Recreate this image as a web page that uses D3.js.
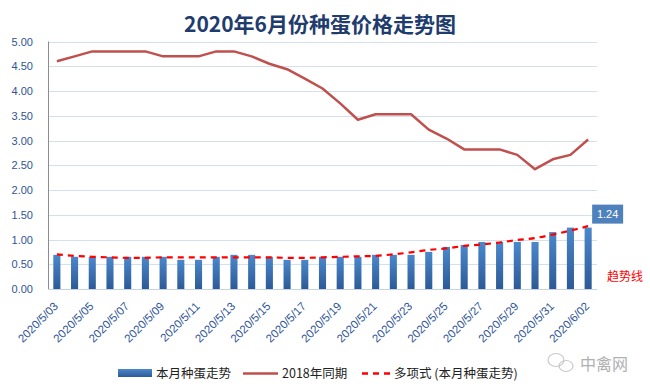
<!DOCTYPE html>
<html><head><meta charset="utf-8">
<script src="https://cdn.jsdelivr.net/npm/d3@7"></script>
<style>
html,body{margin:0;padding:0;background:#fff;}
svg{display:block;}
</style></head>
<body>
<svg id="c" width="650" height="392"></svg>
<script>
const dates = ["2020/5/03","2020/5/04","2020/5/05","2020/5/06","2020/5/07","2020/5/08","2020/5/09","2020/5/10","2020/5/11","2020/5/12","2020/5/13","2020/5/14","2020/5/15","2020/5/16","2020/5/17","2020/5/18","2020/5/19","2020/5/20","2020/5/21","2020/5/22","2020/5/23","2020/5/24","2020/5/25","2020/5/26","2020/5/27","2020/5/28","2020/5/29","2020/5/30","2020/5/31","2020/6/01","2020/6/02"];
const current = [0.69,0.65,0.65,0.65,0.65,0.65,0.65,0.59,0.59,0.65,0.69,0.69,0.65,0.59,0.59,0.65,0.65,0.65,0.69,0.69,0.69,0.75,0.85,0.89,0.95,0.95,0.95,0.95,1.15,1.24,1.24];
const year2018 = [4.6,4.7,4.8,4.8,4.8,4.8,4.7,4.7,4.7,4.8,4.8,4.7,4.55,4.44,4.25,4.05,3.75,3.42,3.53,3.53,3.53,3.22,3.04,2.82,2.82,2.82,2.71,2.42,2.62,2.71,3.02];
const trend = [0.70,0.67,0.65,0.64,0.63,0.63,0.64,0.64,0.64,0.64,0.64,0.64,0.64,0.63,0.63,0.64,0.65,0.66,0.67,0.70,0.74,0.79,0.82,0.87,0.90,0.94,0.99,1.03,1.10,1.18,1.27];
const yTicks = [0,0.5,1,1.5,2,2.5,3,3.5,4,4.5,5];
const title = "2020年6月份种蛋价格走势图";
const legendNames = ["本月种蛋走势","2018年同期","多项式 (本月种蛋走势)"];

const svg = d3.select("#c");
const L = 48, R = 597, T = 41.5, B = 289;
const x = d3.scaleBand().domain(dates).range([L, R]).paddingInner(0.6).paddingOuter(0.3);
const y = d3.scaleLinear().domain([0,5]).range([B, T]);
const cx = d => x(d) + x.bandwidth()/2;

const defs = svg.append("defs");
const g = defs.append("linearGradient").attr("id","bg").attr("x1",0).attr("y1",0).attr("x2",0).attr("y2",1);
g.append("stop").attr("offset","0%").attr("stop-color","#4a88cc");
g.append("stop").attr("offset","100%").attr("stop-color","#2d5a97");
const lg = defs.append("linearGradient").attr("id","lg").attr("x1",0).attr("y1",0).attr("x2",0).attr("y2",1);
lg.append("stop").attr("offset","0%").attr("stop-color","#4a88cc");
lg.append("stop").attr("offset","100%").attr("stop-color","#2d5a97");

// title
svg.append("text").attr("x",320).attr("y",32).attr("text-anchor","middle")
  .attr("font-family","'Noto Sans CJK SC', sans-serif").attr("font-weight","bold")
  .attr("font-size",21).attr("fill","#1f3c6e").text(title);

// grid
svg.append("g").selectAll("line").data(yTicks).join("line")
  .attr("x1",L).attr("x2",R).attr("y1",d=>Math.round(y(d))+0.5).attr("y2",d=>Math.round(y(d))+0.5)
  .attr("stroke",d=>d===0?"#c8d3e2":"#d5e0ee").attr("stroke-width",1);

// y axis
const ya = svg.append("g").attr("transform",`translate(${L},0)`)
  .call(d3.axisLeft(y).tickValues(yTicks).tickFormat(d3.format(".2f")).tickSize(0).tickPadding(15));
ya.select(".domain").attr("stroke","#8c8c8c").attr("d",`M0.5,${T}V${B}`);
ya.selectAll("text").attr("font-family","'Liberation Sans', Arial, sans-serif").attr("font-size",11).attr("fill","#2f5597");

// bars
svg.append("g").selectAll("rect").data(current).join("rect")
  .attr("x",(d,i)=>x(dates[i])).attr("width",x.bandwidth())
  .attr("y",d=>y(d)).attr("height",d=>B-y(d)).attr("fill","url(#bg)");

// 2018 line
svg.append("path").datum(year2018)
  .attr("d",d3.line().x((d,i)=>cx(dates[i])).y(d=>y(d)))
  .attr("fill","none").attr("stroke","#c0504d").attr("stroke-width",2.5).attr("stroke-linejoin","round");

// trend line
svg.append("path").datum(trend)
  .attr("d",d3.line().curve(d3.curveMonotoneX).x((d,i)=>cx(dates[i])).y(d=>y(d)))
  .attr("fill","none").attr("stroke","#ff0000").attr("stroke-width",2.2).attr("stroke-dasharray","6,5");

// x labels
const xl = svg.append("g");
dates.forEach((d,i)=>{
  if(i%2===0){
    xl.append("text").attr("transform",`translate(${cx(d)+2},${307}) rotate(-45)`)
      .attr("text-anchor","end").attr("font-family","'Liberation Sans', Arial, sans-serif")
      .attr("font-size",11.5).attr("fill","#2f5597").text(d);
  }
});

// data label
const last = current.length-1;
const lx = cx(dates[last])+4, ly = y(current[last])-4;
svg.append("rect").attr("x",lx).attr("y",ly-19).attr("width",31).attr("height",19).attr("fill","#4f81bd");
svg.append("text").attr("x",lx+15.5).attr("y",ly-5.5).attr("text-anchor","middle")
  .attr("font-family","'Liberation Sans', Arial, sans-serif").attr("font-size",11).attr("fill","#fff")
  .text(d3.format(".2f")(current[last]));

// annotation
svg.append("text").attr("x",607).attr("y",281).attr("font-family","'Noto Sans CJK SC', sans-serif")
  .attr("font-size",12).attr("fill","#ff0000").text("趋势线");

// legend
const lgY = 373;
const lf = "'Noto Sans CJK SC', sans-serif";
svg.append("rect").attr("x",118).attr("y",lgY-4).attr("width",34).attr("height",8).attr("fill","url(#lg)");
svg.append("text").attr("x",156).attr("y",lgY+4.5).attr("font-family",lf).attr("font-size",12.5).attr("fill","#222").text(legendNames[0]);
svg.append("line").attr("x1",243).attr("x2",278).attr("y1",lgY+0.5).attr("y2",lgY+0.5).attr("stroke","#c0504d").attr("stroke-width",2.5);
svg.append("text").attr("x",282).attr("y",lgY+4.5).attr("font-family",lf).attr("font-size",12.5).attr("fill","#222").text(legendNames[1]);
svg.append("line").attr("x1",362).attr("x2",392).attr("y1",lgY+0.5).attr("y2",lgY+0.5).attr("stroke","#ff0000").attr("stroke-width",2.5).attr("stroke-dasharray","6,5");
svg.append("text").attr("x",394).attr("y",lgY+4.5).attr("font-family",lf).attr("font-size",12.5).attr("fill","#222").text(legendNames[2]);

// watermark
const wm = svg.append("g").attr("fill","none").attr("stroke","#c8c8c8").attr("stroke-width",1.2);
wm.append("ellipse").attr("cx",556).attr("cy",360).attr("rx",8).attr("ry",6.5);
wm.append("ellipse").attr("cx",566).attr("cy",366).attr("rx",7).attr("ry",5.5);
svg.append("text").attr("x",580).attr("y",370).attr("font-family",lf).attr("font-size",16).attr("fill","#b0b0b0").text("中禽网");
</script>
</body></html>
